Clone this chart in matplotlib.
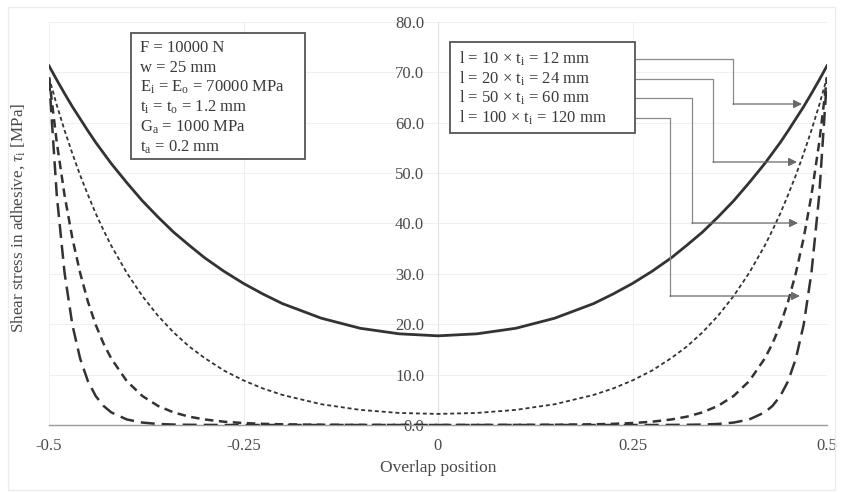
import matplotlib
matplotlib.use("Agg")
import matplotlib.pyplot as plt
from matplotlib.patches import Rectangle, FancyArrowPatch
from matplotlib.lines import Line2D

plt.rcParams['font.family'] = ['Liberation Serif', 'DejaVu Serif']
plt.rcParams['mathtext.fontset'] = 'custom'
plt.rcParams['mathtext.rm'] = 'Liberation Serif'
plt.rcParams['mathtext.it'] = 'Liberation Serif:italic'

# ---- data (normalised overlap position vs shear stress, MPa) ----
position = [-0.5, -0.49, -0.48, -0.47, -0.46, -0.45, -0.44, -0.43, -0.42, -0.40,
            -0.38, -0.36, -0.34, -0.32, -0.30, -0.275, -0.25, -0.225, -0.20,
            -0.15, -0.10, -0.05, 0.0, 0.05, 0.10, 0.15, 0.20, 0.225, 0.25, 0.275,
            0.30, 0.32, 0.34, 0.36, 0.38, 0.40, 0.42, 0.43, 0.44, 0.45, 0.46,
            0.47, 0.48, 0.49, 0.5]

tau_l12 = [71.3, 68.5, 65.8, 63.2, 60.8, 58.4, 56.1, 54.0, 51.9, 48.1,
           44.5, 41.3, 38.3, 35.7, 33.2, 30.5, 28.1, 26.0, 24.1,
           21.2, 19.2, 18.1, 17.7, 18.1, 19.2, 21.2, 24.1, 26.0, 28.1, 30.5,
           33.2, 35.7, 38.3, 41.3, 44.5, 48.1, 51.9, 54.0, 56.1, 58.4, 60.8,
           63.2, 65.8, 68.5, 71.3]

tau_l24 = [69.0, 63.5, 58.5, 53.9, 49.6, 45.7, 42.0, 38.7, 35.6, 30.2,
           25.6, 21.7, 18.4, 15.6, 13.3, 10.8, 8.85, 7.25, 5.97,
           4.12, 3.00, 2.39, 2.20, 2.39, 3.00, 4.12, 5.97, 7.25, 8.85, 10.8,
           13.3, 15.6, 18.4, 21.7, 25.6, 30.2, 35.6, 38.7, 42.0, 45.7, 49.6,
           53.9, 58.5, 63.5, 69.0]

tau_l60 = [69.0, 56.1, 45.6, 37.1, 30.2, 24.5, 19.9, 16.2, 13.2, 8.71,
           5.76, 3.80, 2.51, 1.66, 1.10, 0.65, 0.39, 0.23, 0.14,
           0.05, 0.02, 0.01, 0.0, 0.01, 0.02, 0.05, 0.14, 0.23, 0.39, 0.65,
           1.10, 1.66, 2.51, 3.80, 5.76, 8.71, 13.2, 16.2, 19.9, 24.5, 30.2,
           37.1, 45.6, 56.1, 69.0]

tau_l120 = [69.0, 45.6, 30.2, 19.9, 13.2, 8.71, 5.76, 3.80, 2.51, 1.10,
            0.48, 0.21, 0.09, 0.04, 0.02, 0.0, 0.0, 0.0, 0.0,
            0.0, 0.0, 0.0, 0.0, 0.0, 0.0, 0.0, 0.0, 0.0, 0.0, 0.0,
            0.02, 0.04, 0.09, 0.21, 0.48, 1.10, 2.51, 3.80, 5.76, 8.71, 13.2,
            19.9, 30.2, 45.6, 69.0]

x_ticks = [-0.5, -0.25, 0, 0.25, 0.5]
x_tick_labels = ['-0.5', '-0.25', '0', '0.25', '0.5']
y_ticks = [0, 10, 20, 30, 40, 50, 60, 70, 80]

series_labels = [r'l = 10 $\times$ t$_\mathrm{i}$ = 12 mm',
                 r'l = 20 $\times$ t$_\mathrm{i}$ = 24 mm',
                 r'l = 50 $\times$ t$_\mathrm{i}$ = 60 mm',
                 r'l = 100 $\times$ t$_\mathrm{i}$ = 120 mm']

param_lines = ['F = 10000 N',
               'w = 25 mm',
               r'E$_\mathrm{i}$ = E$_\mathrm{o}$ = 70000 MPa',
               r't$_\mathrm{i}$ = t$_\mathrm{o}$ = 1.2 mm',
               r'G$_\mathrm{a}$ = 1000 MPa',
               r't$_\mathrm{a}$ = 0.2 mm']

# ---- figure ----
W, H = 841, 493
fig = plt.figure(figsize=(W / 100, H / 100), dpi=100)

def fx(px):
    return px / W

def fy(py):
    return 1 - py / H

ax = fig.add_axes([fx(49), fy(425), fx(827) - fx(49), fy(22) - fy(425)])
ax.set_xlim(-0.5, 0.5)
ax.set_ylim(0, 80)

ax.set_xticks(x_ticks)
ax.set_xticklabels(x_tick_labels)
ax.set_yticks(y_ticks)
ax.set_yticklabels(['%.1f' % v for v in y_ticks])
ax.grid(True, color='#f0f0f0', linewidth=0.8, zorder=0)
ax.set_axisbelow(True)

for s in ['top', 'right']:
    ax.spines[s].set_visible(False)
ax.spines['left'].set_position(('data', 0))
ax.spines['left'].set_color('#e3e3e3')
ax.spines['bottom'].set_color('#9a9a9a')
ax.spines['bottom'].set_linewidth(1.0)
ax.tick_params(axis='y', length=0, pad=10, labelsize=12, labelcolor='#4a4a4a')
ax.tick_params(axis='x', length=0, pad=9.5, labelsize=12, labelcolor='#4a4a4a')
ax.set_xlabel('Overlap position', fontsize=12.5, color='#4a4a4a', labelpad=4)

fig.text(fx(18), fy(218), r'Shear stress in adhesive, $\tau_\mathrm{i}$ [MPa]',
         rotation=90, ha='center', va='center', fontsize=12.3, color='#4a4a4a')

ax.plot(position, tau_l12, color='#333333', lw=2.0, zorder=5)
ax.plot(position, tau_l24, color='#333333', lw=1.3, dashes=(2.2, 1.6), zorder=5)
ax.plot(position, tau_l60, color='#333333', lw=1.8, dashes=(3.4, 2.2), zorder=5)
ax.plot(position, tau_l120, color='#333333', lw=1.8, dashes=(5.6, 2.8), zorder=5)

# ---- parameter box ----
fig.patches.append(Rectangle((fx(131), fy(159)), fx(305) - fx(131), fy(33) - fy(159),
                             transform=fig.transFigure, fill=True, facecolor='white',
                             edgecolor='#555555', lw=1.3, zorder=6))
for i, t in enumerate(param_lines):
    fig.text(fx(140), fy(48 + i * 19.8), t, ha='left', va='center',
             fontsize=12, color='#3a3a3a', zorder=7)

# ---- series label box with connectors ----
fig.patches.append(Rectangle((fx(450), fy(133)), fx(635) - fx(450), fy(42) - fy(133),
                             transform=fig.transFigure, fill=True, facecolor='white',
                             edgecolor='#555555', lw=1.3, zorder=6))
label_y = [59, 78.5, 98, 118]
line_start = [603, 603, 603, 620]
corner_x = [733, 713, 692, 670]
arrow_y = [104, 162, 223, 296]
arrow_x = [802, 797, 798, 800]
for i, t in enumerate(series_labels):
    fig.text(fx(459), fy(label_y[i]), t, ha='left', va='center',
             fontsize=12, color='#3a3a3a', zorder=7)
    fig.lines.append(Line2D([fx(line_start[i]), fx(corner_x[i]), fx(corner_x[i])],
                            [fy(label_y[i]), fy(label_y[i]), fy(arrow_y[i])],
                            transform=fig.transFigure, color='#8a8a8a', lw=0.9))
    fig.add_artist(FancyArrowPatch(
        (fx(corner_x[i]), fy(arrow_y[i])), (fx(arrow_x[i]), fy(arrow_y[i])),
        transform=fig.transFigure, arrowstyle='-|>,head_length=5,head_width=2.5',
        color='#6a6a6a', lw=0.9, shrinkA=0, shrinkB=0, zorder=8))

# faint outer frame
fig.patches.append(Rectangle((fx(8), fy(490)), fx(835) - fx(8), fy(7) - fy(490),
                             transform=fig.transFigure, fill=False,
                             edgecolor='#ececec', lw=1.0))

fig.savefig('out.png', dpi=100)
